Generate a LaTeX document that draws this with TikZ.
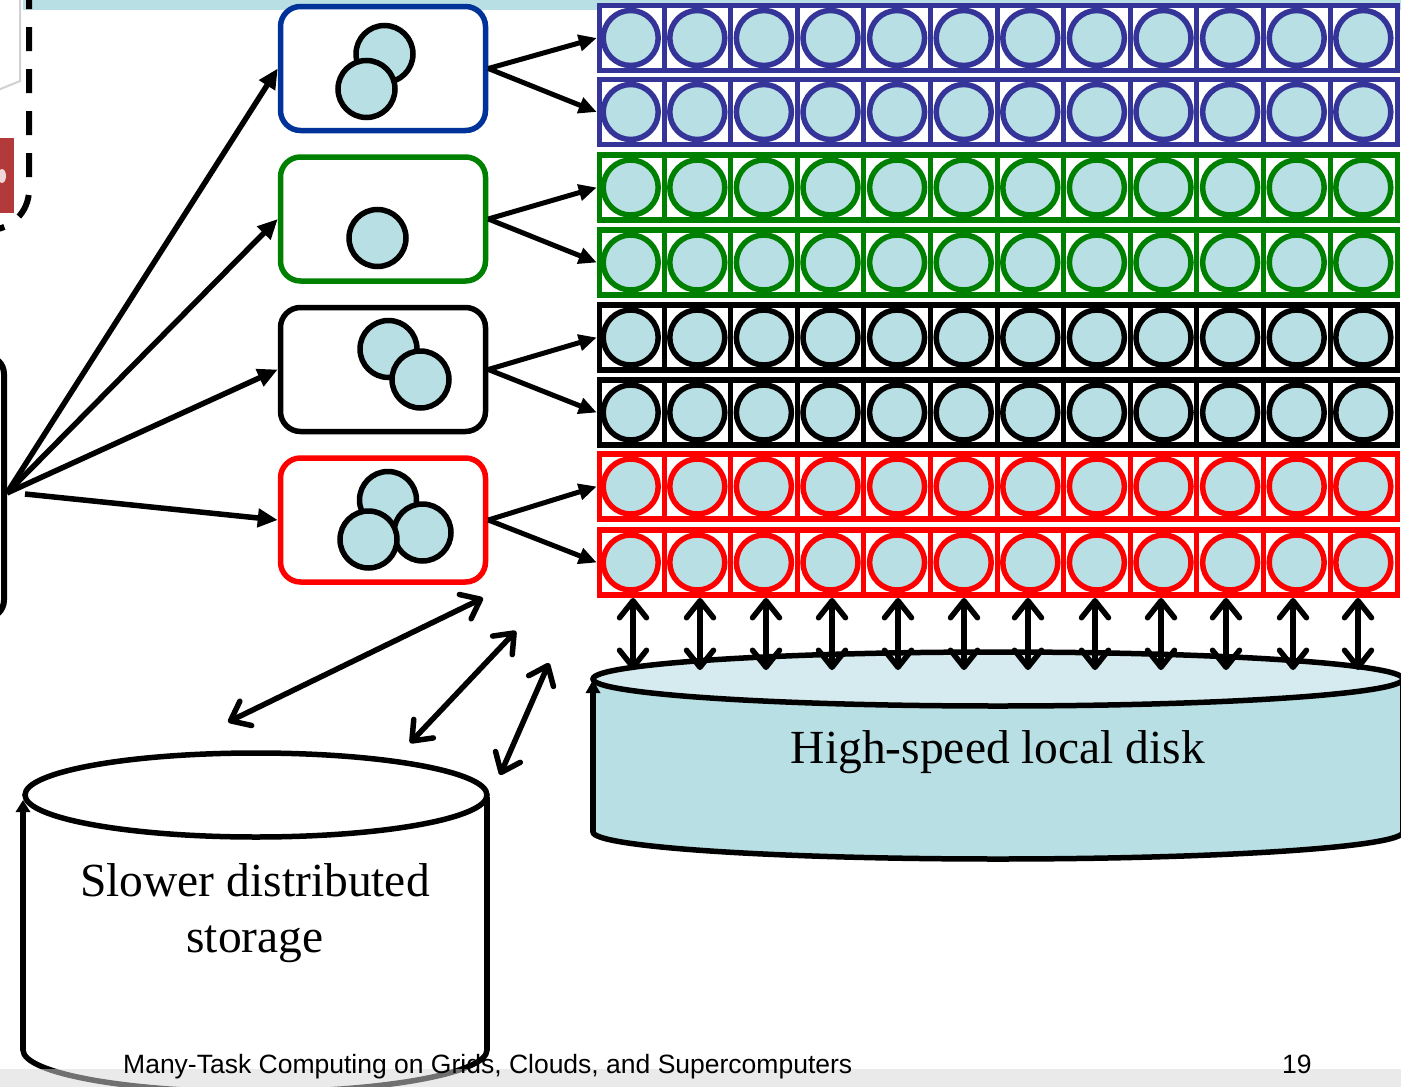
\documentclass[tikz,border=0pt]{standalone}
\usepackage{fontspec}
\setmainfont{Liberation Serif}
\newfontfamily\footfont{Liberation Sans}
\usetikzlibrary{arrows.meta}
\definecolor{lb}{HTML}{B8DFE3}
\definecolor{lbtop}{HTML}{D6EBEF}
\definecolor{boxblue}{HTML}{003399}
\definecolor{rowblue}{HTML}{353599}
\definecolor{dgreen}{HTML}{008000}
\definecolor{rred}{HTML}{FF0000}
\definecolor{lred}{HTML}{B33A3A}
\definecolor{bandgray}{RGB}{215,215,215}
\begin{document}
\begin{tikzpicture}[x=1pt,y=-1pt,
  pbox/.style={draw, line width=5.5pt, rounded corners=20pt, minimum width=205pt, minimum height=124pt, inner sep=0pt, fill=white},
  ball/.style={circle, draw=black, fill=lb, line width=5.5pt, minimum size=57pt, inner sep=0pt},
  rowbox/.style={draw, line width=5.5pt, minimum width=798pt, minimum height=65pt, inner sep=0pt, fill=white},
  cell/.style={circle, fill=lb, line width=5.5pt, minimum size=55pt, inner sep=0pt},
  fan/.style={line width=5.5pt, -{Triangle[length=20pt,width=18pt]}},
  feed/.style={line width=5pt, -{Triangle[length=18pt,width=16pt]}},
  dbl/.style={line width=5.5pt, {Straight Barb[length=17pt,width=27pt,round]}-{Straight Barb[length=17pt,width=27pt,round]}},
  bigtext/.style={font=\fontsize{47.5}{55}\selectfont, inner sep=0pt, anchor=base},
  foottext/.style={font=\footfont\fontsize{26.5}{30}\selectfont, inner sep=0pt, anchor=base west},
]
\useasboundingbox (0,0) rectangle (1401,1087);
% top band
\fill[lb] (23,0) rectangle (1401,10);
% left fragments
\draw[black!18, line width=2pt] (20,-5) -- (20,81) -- (-2,90);
\fill[lred] (-1,138) rectangle (14,213);
\fill[white, opacity=0.8] (2,176) ellipse [x radius=4pt, y radius=7pt];
\draw[line width=6pt, dash pattern=on 24pt off 18pt, dash phase=15pt] (29,0) -- (29,190) .. controls (29,212) and (11,230) .. (-11,230);
\draw[line width=6pt] (-30,356) -- (-14,356) .. controls (-4,356) and (4,364) .. (4,374) -- (4,600) .. controls (4,610) and (-4,618) .. (-14,618) -- (-30,618);

% processor boxes
\node[pbox, draw=boxblue] (p1) at (383,68.5) {};
\node[pbox, draw=dgreen] (p2) at (383,219) {};
\node[pbox, draw=black] (p3) at (383,369.5) {};
\node[pbox, draw=rred] (p4) at (383,520) {};
\node[ball] (p1a) at (384.5,54) {};
\node[ball] (p1b) at (366.5,89) {};
\node[ball] (p2a) at (377.5,238) {};
\node[ball] (p3a) at (388.5,349) {};
\node[ball] (p3b) at (420.5,379.5) {};
\node[ball] (p4a) at (388,500) {};
\node[ball] (p4b) at (422.5,532.5) {};
\node[ball] (p4c) at (368.5,539.5) {};

% grid rows
\foreach \n/\yy/\c in {1/38/rowblue, 2/112/rowblue, 3/187.5/dgreen, 4/262.5/dgreen, 5/337.5/black, 6/412.5/black, 7/486.5/rred, 8/562.5/rred}{
  \node[rowbox, draw=\c] (r\n) at (998.5,\yy) {};
  \foreach \k in {1,...,11}
    \draw[line width=5pt, \c] ({597.4+66.6*\k}, \yy-32.5) -- ({597.4+66.6*\k}, \yy+32.5);
  \foreach \i in {1,...,12}
    \node[cell, draw=\c] (c\n-\i) at ({597.4+66.6*(\i-0.5)}, \yy) {};
}

% high-speed local disk
\fill[lb] (593,679) rectangle (1410,832);
\fill[lb] (998,832) ellipse [x radius=405pt, y radius=27pt];
\begin{scope}
  \clip (0,832) rectangle (1401,1087);
  \draw[line width=5.5pt] (998,832) ellipse [x radius=405pt, y radius=27pt];
\end{scope}
\draw[line width=5.5pt] (1403,679) -- (1403,832);
\draw[line width=5.5pt, fill=lbtop] (998,679) ellipse [x radius=405pt, y radius=27pt];
\draw[line width=5.5pt, -{Triangle[length=13pt,width=14pt]}] (593,832) -- (593,680);
\node[bigtext] (dl) at (998,763) {High-speed local disk};

% slower distributed storage
\begin{scope}
  \clip (0,1050) rectangle (1401,1120);
  \draw[line width=5.5pt] (255,1050) ellipse [x radius=232pt, y radius=42pt];
\end{scope}
\draw[line width=5.5pt] (487,797) -- (487,1050);
\draw[line width=5.5pt] (256,795) ellipse [x radius=231pt, y radius=42pt];
\draw[line width=5.5pt, -{Triangle[length=12pt,width=14pt]}] (23,1050) -- (23,800);
\node[bigtext] (st1) at (255,896) {Slower distributed};
\node[bigtext] (st2) at (255,952) {storage};

% connectors
\coordinate (src) at (7,493);
\coordinate (src2) at (25,494);
\draw[fan] (src) -- (p1.west);
\draw[fan] (src) -- (p2.west);
\draw[fan] (src) -- (p3.west);
\draw[fan] (src2) -- (p4.west);
\draw[feed] (p1.east) -- (r1.west);
\draw[feed] (p1.east) -- (r2.west);
\draw[feed] (p2.east) -- (r3.west);
\draw[feed] (p2.east) -- (r4.west);
\draw[feed] (p3.east) -- (r5.west);
\draw[feed] (p3.east) -- (r6.west);
\draw[feed] (p4.east) -- (r7.west);
\draw[feed] (p4.east) -- (r8.west);
\foreach \i/\xx in {1/633,2/700,3/766,4/832,5/898,6/964,7/1028,8/1095,9/1161,10/1226,11/1293,12/1358}{
  \coordinate (u\i) at (\xx,598);
  \coordinate (v\i) at (\xx,670);
  \draw[dbl] (u\i) -- (v\i);
}
\coordinate (sa1) at (228,722); \coordinate (sa2) at (483,598);
\coordinate (sb1) at (410,743); \coordinate (sb2) at (516,631);
\coordinate (sc1) at (500,775); \coordinate (sc2) at (549,663);
\draw[dbl] (sa1) -- (sa2);
\draw[dbl] (sb1) -- (sb2);
\draw[dbl] (sc1) -- (sc2);

% footer
\fill[bandgray, opacity=0.52] (0,1069) rectangle (1401,1087);
\node[foottext] (foot) at (123,1073) {Many-Task Computing on Grids, Clouds, and Supercomputers};
\node[foottext] (page) at (1282,1073) {19};
\end{tikzpicture}
\end{document}
